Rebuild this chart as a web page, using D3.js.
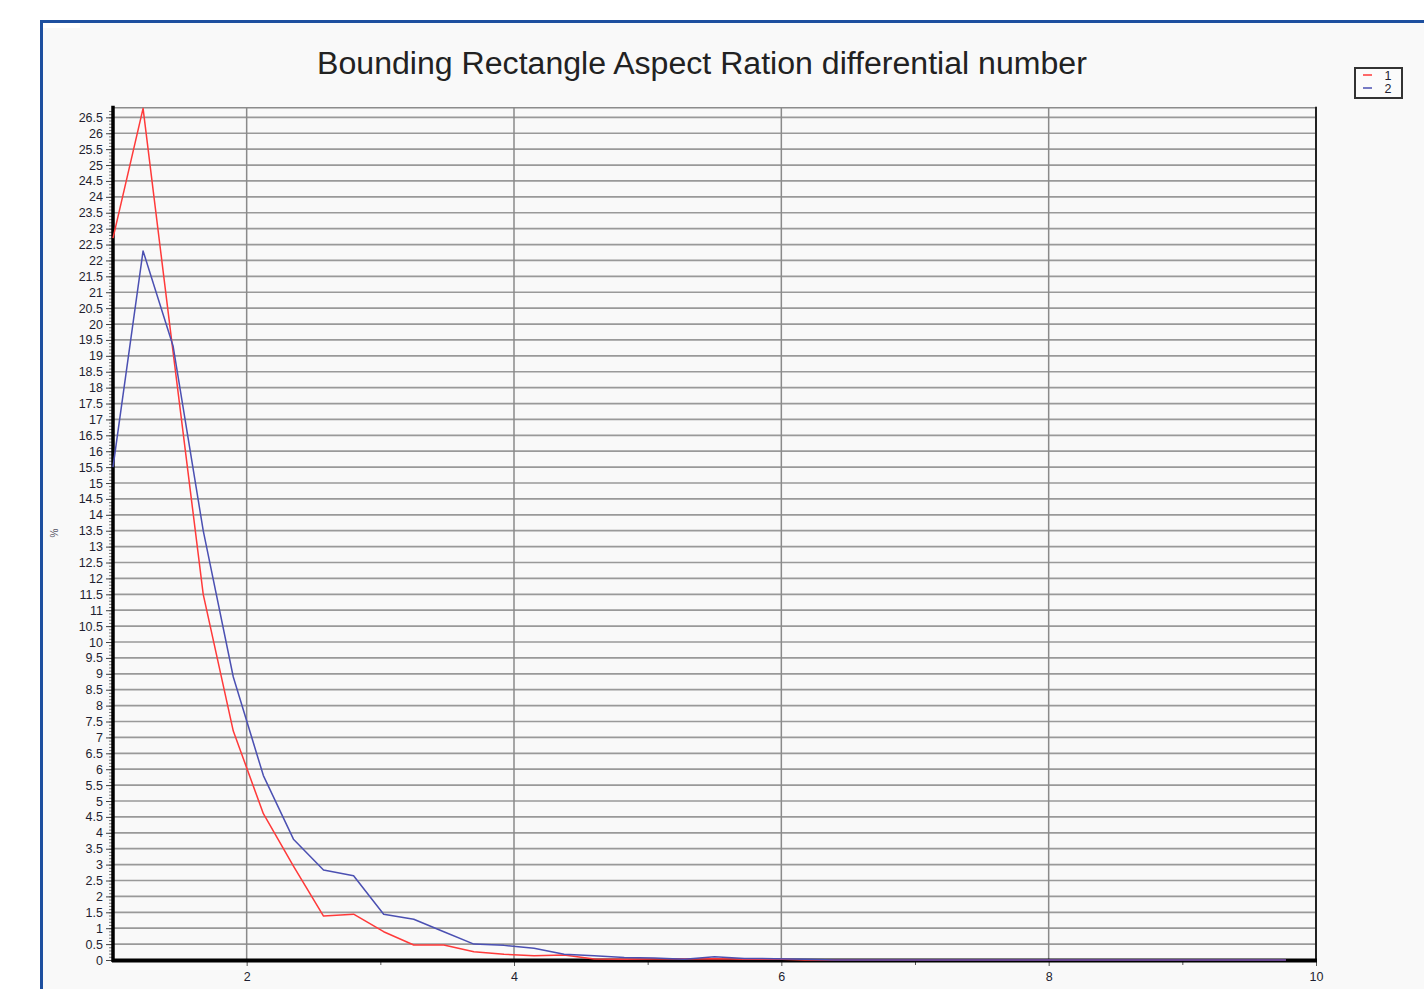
<!DOCTYPE html>
<html>
<head>
<meta charset="utf-8">
<script src="https://cdn.jsdelivr.net/npm/d3@7"></script>
<style>
  html, body { margin: 0; padding: 0; background: #ffffff; }
  svg { display: block; }
  text { font-family: "Liberation Sans", Arial, sans-serif; }
</style>
</head>
<body>
<svg id="chart" width="1424" height="989"></svg>
<script>
// ---- data ----
const titleText = "Bounding Rectangle Aspect Ration differential number";
const yAxisLabel = "%";
const seriesNames = ["1", "2"];
const xValues = [1.000, 1.225, 1.450, 1.675, 1.900, 2.125, 2.350, 2.575, 2.800, 3.025,
                 3.250, 3.475, 3.700, 3.925, 4.150, 4.375, 4.600, 4.825, 5.050, 5.275,
                 5.500, 5.725, 5.950, 6.175, 6.400, 6.625, 6.850, 7.075, 7.300, 7.525,
                 7.750, 7.975, 8.200, 8.425, 8.650, 8.875, 9.100, 9.325, 9.550, 9.775];
const series1 = [22.7, 26.78, 19.1, 11.5, 7.2, 4.6, 2.95, 1.38, 1.44, 0.89,
                 0.47, 0.47, 0.26, 0.18, 0.13, 0.16, 0.03, 0.02, 0.03, 0.03,
                 0.04, 0.02, 0.03, 0, 0, 0, 0, 0, 0, 0,
                 0, 0, 0, 0, 0, 0, 0, 0, 0, 0];
const series2 = [15.5, 22.3, 19.3, 13.5, 8.9, 5.8, 3.8, 2.83, 2.65, 1.44,
                 1.28, 0.89, 0.5, 0.46, 0.37, 0.18, 0.13, 0.08, 0.06, 0.02,
                 0.1, 0.05, 0.04, 0.02, 0, 0, 0, 0, 0, 0,
                 0, 0, 0, 0, 0, 0, 0, 0, 0, 0];
const xTickLabels = [2, 4, 6, 8, 10];
const xMinorTicks = [3, 5, 7, 9];
const yTickLabels = [0, 0.5, 1, 1.5, 2, 2.5, 3, 3.5, 4, 4.5, 5, 5.5, 6, 6.5, 7, 7.5, 8, 8.5, 9, 9.5,
                     10, 10.5, 11, 11.5, 12, 12.5, 13, 13.5, 14, 14.5, 15, 15.5, 16, 16.5, 17, 17.5,
                     18, 18.5, 19, 19.5, 20, 20.5, 21, 21.5, 22, 22.5, 23, 23.5, 24, 24.5, 25, 25.5,
                     26, 26.5];
const xDomain = [1, 10];
const yDomain = [0, 26.8];

// ---- layout ----
const svg = d3.select("#chart");
const W = 1424, H = 989;
const plot = { left: 113, right: 1316, top: 107.8, bottom: 960 };

svg.append("rect").attr("x", 0).attr("y", 0).attr("width", W).attr("height", H).attr("fill", "#ffffff");
// outer frame
svg.append("rect").attr("x", 41.5).attr("y", 21.5).attr("width", W + 10).attr("height", H + 10)
  .attr("fill", "#f9f9f9").attr("stroke", "#1d4f9f").attr("stroke-width", 3);
svg.append("rect").attr("x", 43).attr("y", 23).attr("width", 37).attr("height", 5).attr("fill", "#ffffff");

const x = d3.scaleLinear().domain(xDomain).range([plot.left, plot.right]);
const y = d3.scaleLinear().domain(yDomain).range([plot.bottom, plot.top]);

// title
svg.append("text").attr("x", 702).attr("y", 74).attr("text-anchor", "middle")
  .attr("font-size", 32.1).attr("fill", "#222").text(titleText);

// horizontal gridlines
const grid = svg.append("g");
grid.selectAll("line.h").data(yTickLabels.filter(d => d > 0)).join("line")
  .attr("x1", plot.left).attr("x2", plot.right)
  .attr("y1", d => y(d)).attr("y2", d => y(d))
  .attr("stroke", "#999999").attr("stroke-width", 1.7);
// top border
grid.append("line").attr("x1", plot.left).attr("x2", plot.right)
  .attr("y1", y(yDomain[1])).attr("y2", y(yDomain[1]))
  .attr("stroke", "#8c8c8c").attr("stroke-width", 1.5);
// vertical gridlines
grid.selectAll("line.v").data(xTickLabels.filter(d => d < xDomain[1])).join("line")
  .attr("x1", d => x(d)).attr("x2", d => x(d))
  .attr("y1", plot.top).attr("y2", plot.bottom)
  .attr("stroke", "#8a8a8a").attr("stroke-width", 1.5);
// right border
svg.append("line").attr("x1", plot.right).attr("x2", plot.right)
  .attr("y1", plot.top - 1).attr("y2", plot.bottom + 2)
  .attr("stroke", "#222").attr("stroke-width", 2);

// y axis minor ticks
const yMinor = d3.range(0, 268).map(i => i / 10);
const yMinorAxis = d3.axisLeft(y).tickValues(yMinor).tickSize(3).tickFormat("");
svg.append("g").attr("transform", `translate(${plot.left - 1},0)`).call(yMinorAxis)
  .call(g => g.select(".domain").remove())
  .call(g => g.selectAll("line").attr("stroke", "#555").attr("stroke-width", 0.8));
// y axis major
const yAxis = d3.axisLeft(y).tickValues(yTickLabels).tickSize(6).tickPadding(3)
  .tickFormat(d => String(d));
svg.append("g").attr("transform", `translate(${plot.left - 1},0)`).call(yAxis)
  .call(g => g.select(".domain").remove())
  .call(g => g.selectAll("line").attr("stroke", "#444").attr("stroke-width", 1))
  .call(g => g.selectAll("text").attr("font-size", 12.5).attr("fill", "#1e1e30")
    .attr("font-family", "'Liberation Sans', Arial, sans-serif"));

// x axis ticks
const xAxis = d3.axisBottom(x).tickValues(xTickLabels).tickSize(5).tickPadding(6).tickFormat(d => String(d));
svg.append("g").attr("transform", `translate(0,${plot.bottom + 1})`).call(xAxis)
  .call(g => g.select(".domain").remove())
  .call(g => g.selectAll("line").attr("stroke", "#555").attr("stroke-width", 1))
  .call(g => g.selectAll("text").attr("font-size", 12.5).attr("fill", "#1e1e30")
    .attr("font-family", "'Liberation Sans', Arial, sans-serif"));
const xMinorAxis = d3.axisBottom(x).tickValues(xMinorTicks).tickSize(4).tickFormat("");
svg.append("g").attr("transform", `translate(0,${plot.bottom + 1})`).call(xMinorAxis)
  .call(g => g.select(".domain").remove())
  .call(g => g.selectAll("line").attr("stroke", "#555").attr("stroke-width", 1));

// thick axis lines
svg.append("line").attr("x1", plot.left).attr("x2", plot.left)
  .attr("y1", plot.top - 2).attr("y2", plot.bottom + 2)
  .attr("stroke", "#000").attr("stroke-width", 3.5);
svg.append("line").attr("x1", plot.left - 1).attr("x2", plot.right + 1)
  .attr("y1", plot.bottom + 0.5).attr("y2", plot.bottom + 0.5)
  .attr("stroke", "#000").attr("stroke-width", 4);

// y axis label
svg.append("text").attr("transform", "translate(58,533) rotate(-90)")
  .attr("text-anchor", "middle").attr("font-size", 10).attr("fill", "#556").text(yAxisLabel);

// series
const line = d3.line().x((d, i) => x(xValues[i])).y(d => y(d));
const colors = ["#ff3a3a", "#4b50b2"];
[series1, series2].forEach((s, i) => {
  svg.append("path").datum(s).attr("d", line).attr("fill", "none")
    .attr("stroke", colors[i]).attr("stroke-width", 1.5).attr("stroke-linejoin", "round");
});

// legend
const lg = svg.append("g");
lg.append("rect").attr("x", 1355).attr("y", 68).attr("width", 47).attr("height", 30)
  .attr("fill", "#fbfbfb").attr("stroke", "#333").attr("stroke-width", 2);
seriesNames.forEach((n, i) => {
  const yy = 75 + i * 13;
  lg.append("line").attr("x1", 1363).attr("x2", 1372).attr("y1", yy).attr("y2", yy)
    .attr("stroke", colors[i]).attr("stroke-width", 1.5);
  lg.append("text").attr("x", 1388).attr("y", yy + 4.5).attr("text-anchor", "middle")
    .attr("font-size", 12.5).attr("fill", "#1e1e30").text(n);
});
</script>
</body>
</html>
